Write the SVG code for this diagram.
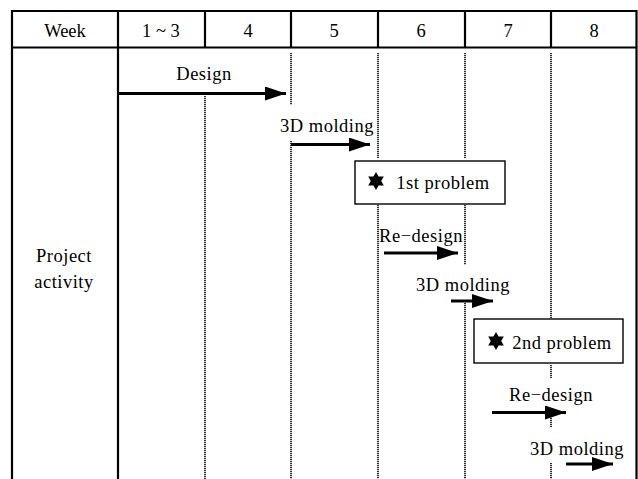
<svg xmlns="http://www.w3.org/2000/svg" width="638" height="479" viewBox="0 0 638 479">
<style>
text{font-family:"Liberation Serif","Times New Roman",serif;font-size:18.5px;fill:#000;text-anchor:middle}
.lbl{letter-spacing:0.5px}
.frame{stroke:#000;stroke-width:2.2;fill:none}
.dot{stroke:#333;stroke-width:2;stroke-dasharray:1.2 0.8;fill:none}
.bar{stroke:#000;stroke-width:3;fill:none}
.box{stroke:#000;stroke-width:1.4;fill:#fff}
</style>
<defs>
<marker id="ah" markerUnits="userSpaceOnUse" markerWidth="22" markerHeight="14" refX="21" refY="7" orient="auto">
<path d="M0,0 L21,7 L0,14 Z" fill="#000"/>
</marker>
<polygon id="star" points="0,-9 2.6,-4.5 7.8,-4.5 5.2,0 7.8,4.5 2.6,4.5 0,9 -2.6,4.5 -7.8,4.5 -5.2,0 -7.8,-4.5 -2.6,-4.5" fill="#000"/>
</defs>
<g id="table">
<line class="frame" x1="12" y1="11" x2="637" y2="11"/>
<line class="frame" x1="12" y1="47.5" x2="637" y2="47.5"/>
<line class="frame" x1="12" y1="10" x2="12" y2="479"/>
<line class="frame" x1="636.5" y1="10" x2="636.5" y2="479"/>
<line class="frame" x1="118" y1="10" x2="118" y2="479"/>
<line class="frame" x1="205" y1="10" x2="205" y2="48"/>
<line class="frame" x1="291" y1="10" x2="291" y2="48"/>
<line class="frame" x1="378" y1="10" x2="378" y2="48"/>
<line class="frame" x1="465" y1="10" x2="465" y2="48"/>
<line class="frame" x1="551" y1="10" x2="551" y2="48"/>
<text x="65" y="36.5">Week</text>
<text x="161" y="36.5">1 ~ 3</text>
<text x="248" y="36.5">4</text>
<text x="334" y="36.5">5</text>
<text x="421" y="36.5">6</text>
<text x="508" y="36.5">7</text>
<text x="594" y="36.5">8</text>
<text class="lbl" x="64" y="262">Project</text>
<text class="lbl" x="64" y="288">activity</text>
</g>
<g id="gridlines">
<line class="dot" x1="205" y1="96" x2="205" y2="479"/>
<line class="dot" x1="291" y1="53" x2="291" y2="105"/>
<line class="dot" x1="291" y1="141" x2="291" y2="479"/>
<line class="dot" x1="378" y1="53" x2="378" y2="158"/>
<line class="dot" x1="378" y1="205" x2="378" y2="479"/>
<line class="dot" x1="465" y1="53" x2="465" y2="158"/>
<line class="dot" x1="465" y1="205" x2="465" y2="265"/>
<line class="dot" x1="465" y1="303" x2="465" y2="479"/>
<line class="dot" x1="551" y1="53" x2="551" y2="318"/>
<line class="dot" x1="551" y1="365" x2="551" y2="378"/>
<line class="dot" x1="551" y1="414" x2="551" y2="427"/>
<line class="dot" x1="551" y1="463" x2="551" y2="479"/>
</g>
<g id="connectors">
<line class="bar" x1="118" y1="93.5" x2="286" y2="93.5" marker-end="url(#ah)"/>
<line class="bar" x1="291" y1="144.5" x2="370" y2="144.5" marker-end="url(#ah)"/>
<line class="bar" x1="384" y1="253" x2="458" y2="253" marker-end="url(#ah)"/>
<line class="bar" x1="451" y1="301" x2="493" y2="301" marker-end="url(#ah)"/>
<line class="bar" x1="492" y1="412.5" x2="566" y2="412.5" marker-end="url(#ah)"/>
<line class="bar" x1="566" y1="464" x2="613" y2="464" marker-end="url(#ah)"/>
</g>
<g id="design1"><text class="lbl" x="204" y="80">Design</text></g>
<g id="molding1"><text class="lbl" x="327" y="132">3D molding</text></g>
<g id="problem1">
<rect class="box" x="355" y="161" width="150" height="43"/>
<use href="#star" x="376" y="181"/>
<text class="lbl" x="443" y="189">1st problem</text>
</g>
<g id="redesign1"><text class="lbl" x="421" y="241.5">Re−design</text></g>
<g id="molding2"><text class="lbl" x="463" y="290.5">3D molding</text></g>
<g id="problem2">
<rect class="box" x="474" y="319" width="149" height="44"/>
<use href="#star" x="496" y="341"/>
<text class="lbl" x="562" y="348.5">2nd problem</text>
</g>
<g id="redesign2"><text class="lbl" x="551" y="400.5">Re−design</text></g>
<g id="molding3"><text class="lbl" x="577" y="455">3D molding</text></g>
</svg>
